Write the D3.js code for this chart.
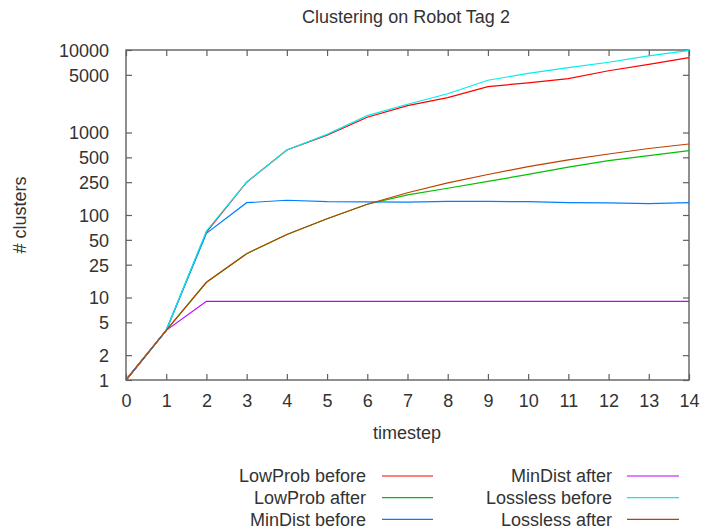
<!DOCTYPE html>
<html>
<head>
<meta charset="utf-8">
<script src="https://cdn.jsdelivr.net/npm/d3@7"></script>
<style>
  html, body { margin: 0; padding: 0; background: #fff; }
  svg { display: block; font-family: "Liberation Sans", Arial, sans-serif; }
</style>
</head>
<body>
<svg id="chart" width="701" height="531"></svg>
<script>
// Cluster counts per timestep for each method, before and after clustering
const timesteps = [0, 1, 2, 3, 4, 5, 6, 7, 8, 9, 10, 11, 12, 13, 14];
const lowProbBefore  = [1, 4, 62, 250, 614, 930, 1530, 2120, 2650, 3600, 4000, 4500, 5600, 6700, 8100];
const lowProbAfter   = [1, 4, 15.3, 34, 58, 90, 135, 175, 211, 255, 311, 380, 456, 525, 602];
const minDistBefore  = [1, 4, 60, 141, 151, 145, 144, 143, 146, 146, 145, 141, 140, 137, 141];
const minDistAfter   = [1, 4, 9, 9, 9, 9, 9, 9, 9, 9, 9, 9, 9, 9, 9];
const losslessBefore = [1, 4, 64, 250, 614, 950, 1600, 2200, 2950, 4300, 5200, 6100, 7100, 8500, 9900];
const losslessAfter  = [1, 4, 15.3, 34, 58, 90, 135, 186, 245, 310, 385, 465, 549, 640, 726];

const seriesNames  = ["LowProb before", "LowProb after", "MinDist before", "MinDist after", "Lossless before", "Lossless after"];
const seriesValues = [lowProbBefore, lowProbAfter, minDistBefore, minDistAfter, losslessBefore, losslessAfter];
const seriesColors = ["#ff0000", "#00c000", "#0080ff", "#c000ff", "#00eeee", "#c04000"];

const xTicks = timesteps;
const yTicks = [1, 2, 5, 10, 25, 50, 100, 250, 500, 1000, 5000, 10000];

const titleText = "Clustering on Robot Tag 2";
const xLabel = "timestep";
const yLabel = "# clusters";

const svg = d3.select("#chart");
const plotLeft = 126, plotRight = 689, plotTop = 50, plotBottom = 380;
const textColor = "#333";
const axisColor = "#606060";
const fontSize = "18px";

const x = d3.scaleLinear().domain([0, 14]).range([plotLeft, plotRight]);
const y = d3.scaleLog().domain([1, 10000]).range([plotBottom, plotTop]);

// Axes with inward ticks; mirrored on top and right
const tickLen = 6;
const gx = svg.append("g").attr("transform", `translate(0,${plotBottom})`)
  .call(d3.axisBottom(x).tickValues(xTicks).tickFormat(d3.format("d")).tickSizeInner(-tickLen).tickSizeOuter(0).tickPadding(14));
const gxTop = svg.append("g").attr("transform", `translate(0,${plotTop})`)
  .call(d3.axisTop(x).tickValues(xTicks).tickFormat("").tickSizeInner(-tickLen).tickSizeOuter(0));
const gy = svg.append("g").attr("transform", `translate(${plotLeft},0)`)
  .call(d3.axisLeft(y).tickValues(yTicks).tickFormat(d3.format("d")).tickSizeInner(-tickLen).tickSizeOuter(0).tickPadding(17));
const gyRight = svg.append("g").attr("transform", `translate(${plotRight},0)`)
  .call(d3.axisRight(y).tickValues(yTicks).tickFormat("").tickSizeInner(-tickLen).tickSizeOuter(0));

[gx, gxTop, gy, gyRight].forEach(g => {
  g.select(".domain").remove();
  g.selectAll(".tick line").attr("stroke", axisColor).attr("stroke-width", 1.2);
  g.selectAll(".tick text").attr("fill", textColor).style("font-size", fontSize);
});
gy.selectAll(".tick text").attr("dy", "0.36em");

// Plot frame
svg.append("rect")
  .attr("x", plotLeft).attr("y", plotTop)
  .attr("width", plotRight - plotLeft).attr("height", plotBottom - plotTop)
  .attr("fill", "none").attr("stroke", axisColor).attr("stroke-width", 1.4);

// Series lines
const line = d3.line().x((d, i) => x(timesteps[i])).y(d => y(d));
seriesValues.forEach((vals, k) => {
  svg.append("path")
    .datum(vals)
    .attr("d", line)
    .attr("fill", "none")
    .attr("stroke", seriesColors[k])
    .attr("stroke-width", 1.2);
});

// Title and axis labels
svg.append("text").attr("x", 406).attr("y", 23).attr("text-anchor", "middle")
  .attr("fill", textColor).style("font-size", fontSize).text(titleText);
svg.append("text").attr("x", 407).attr("y", 439).attr("text-anchor", "middle")
  .attr("fill", textColor).style("font-size", fontSize).text(xLabel);
svg.append("text").attr("transform", "translate(26,215) rotate(-90)").attr("text-anchor", "middle")
  .attr("fill", textColor).style("font-size", fontSize).text(yLabel);

// Legend: two columns of three entries
const legendRows = [476, 497.7, 519.3];
const legendCols = [{ textX: 366, x1: 382, x2: 433 }, { textX: 612, x1: 627, x2: 679 }];
seriesNames.forEach((name, k) => {
  const col = legendCols[Math.floor(k / 3)];
  const ry = legendRows[k % 3];
  svg.append("text").attr("x", col.textX).attr("y", ry).attr("dy", "0.35em")
    .attr("text-anchor", "end").attr("fill", textColor).style("font-size", fontSize).text(name);
  svg.append("line").attr("x1", col.x1).attr("x2", col.x2).attr("y1", ry).attr("y2", ry)
    .attr("stroke", seriesColors[k]).attr("stroke-width", 1.2);
});
</script>
</body>
</html>
